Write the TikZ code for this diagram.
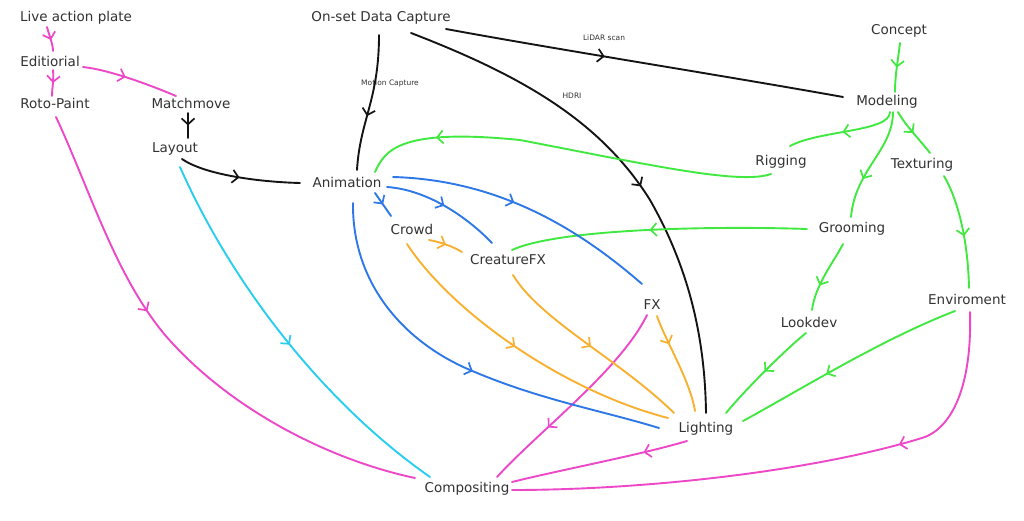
\documentclass[tikz,border=0pt]{standalone}
\usepackage{fontspec}
\setmainfont{DejaVu Sans}
\usetikzlibrary{arrows.meta,decorations.markings}
\definecolor{cpink}{RGB}{236,72,200}
\definecolor{cgreen}{RGB}{64,232,64}
\definecolor{cblue}{RGB}{45,120,230}
\definecolor{corange}{RGB}{248,176,48}
\definecolor{ccyan}{RGB}{40,205,240}
\definecolor{cblack}{RGB}{20,20,20}
\definecolor{ctext}{RGB}{50,50,50}
\tikzset{
  lbl/.style={inner sep=0pt, text height=11.5pt, text depth=1.5pt, text=ctext, font=\fontsize{13.5}{15}\selectfont},
  small/.style={inner sep=0pt, text=ctext, font=\fontsize{7.5}{9}\selectfont},
  conn/.style={line width=1.9pt, line cap=round, line join=round},
  arr/.style={postaction={decorate, decoration={markings,
     mark=at position #1 with {\arrow[line width=1.7pt]{Straight Barb[length=6pt,width=13pt]}}}}},
  arr/.default=0.5
}
\begin{document}
\begin{tikzpicture}[x=1pt,y=-1pt]
\useasboundingbox (0,0) rectangle (1024,521);
% nodes
\node[lbl] (lap) at (76,17) {Live action plate};
\node[lbl] (edit) at (50,62) {Editiorial};
\node[lbl] (roto) at (55,104) {Roto-Paint};
\node[lbl] (match) at (191,104) {Matchmove};
\node[lbl] (layout) at (175,148) {Layout};
\node[lbl] (onset) at (381,17) {On-set Data Capture};
\node[lbl] (anim) at (347,183) {Animation};
\node[lbl] (crowd) at (412,230) {Crowd};
\node[lbl] (cfx) at (508,259) {CreatureFX};
\node[lbl] (fx) at (652,304) {FX};
\node[lbl] (light) at (706,427) {Lighting};
\node[lbl] (comp) at (467,487) {Compositing};
\node[lbl] (concept) at (899,30) {Concept};
\node[lbl] (model) at (887,101) {Modeling};
\node[lbl] (rig) at (781,161) {Rigging};
\node[lbl] (tex) at (922,164) {Texturing};
\node[lbl] (groom) at (852,228) {Grooming};
\node[lbl] (look) at (809,322) {Lookdev};
\node[lbl] (env) at (967,299) {Enviroment};
\node[small] (lidar) at (604,38) {LiDAR scan};
\node[small] (mocap) at (390,83) {Motion Capture};
\node[small] (hdri) at (572,96) {HDRI};

% pink
\draw[conn,cpink,arr=0.55] ([shift={(-29,10)}]lap.center) .. controls (49,35) and (53,44) .. ([shift={(3,-11)}]edit.center);
\draw[conn,cpink,arr=0.5] ([shift={(3,8)}]edit.center) .. controls (54,80) and (52,88) .. ([shift={(-3,-8)}]roto.center);
\draw[conn,cpink,arr=0.45] ([shift={(33,5)}]edit.center) .. controls (110,70) and (150,85) .. ([shift={(-15,-8)}]match.center);
\draw[conn,cpink,arr=0.4] ([shift={(1,13)}]roto.center) .. controls (90,190) and (115,275) .. (165,335) .. controls (230,410) and (330,460) .. ([shift={(-52,-9)}]comp.center);
\draw[conn,cpink,arr=0.25] ([shift={(-19,14)}]light.center) .. controls (640,455) and (560,470) .. ([shift={(45,-5)}]comp.center);
\draw[conn,cpink,arr=0.3] ([shift={(3,13)}]env.center) .. controls (972,380) and (955,425) .. (925,437) .. controls (820,470) and (650,490) .. ([shift={(45,3)}]comp.center);
\draw[conn,cpink,arr=0.68] ([shift={(-5,11)}]fx.center) .. controls (620,370) and (540,430) .. ([shift={(30,-10)}]comp.center);

% black
\draw[conn,cblack,arr=0.5] ([shift={(-3,9)}]match.center) -- ([shift={(13,-10)}]layout.center);
\draw[conn,cblack,arr=0.5] ([shift={(7,11)}]layout.center) .. controls (205,175) and (260,182) .. ([shift={(-47,0)}]anim.center);
\draw[conn,cblack,arr=0.6] ([shift={(-2,18)}]onset.center) .. controls (379,100) and (360,120) .. ([shift={(10,-13)}]anim.center);
\draw[conn,cblack,arr=0.54] ([shift={(30,16)}]onset.center) .. controls (520,75) and (600,120) .. (650,200) .. controls (690,270) and (705,340) .. ([shift={(0,-14)}]light.center);
\draw[conn,cblack,arr=0.4] ([shift={(65,12)}]onset.center) .. controls (560,50) and (720,75) .. ([shift={(-44,-4)}]model.center);

% green
\draw[conn,cgreen,arr=0.5] ([shift={(1,13)}]concept.center) .. controls (898,60) and (895,75) .. ([shift={(8,-9)}]model.center);
\draw[conn,cgreen,arr=0.5] ([shift={(3,11)}]model.center) .. controls (890,132) and (820,130) .. ([shift={(9,-15)}]rig.center);
\draw[conn,cgreen,arr=0.65] ([shift={(6,11)}]model.center) .. controls (893,150) and (855,170) .. ([shift={(-1,-11)}]groom.center);
\draw[conn,cgreen,arr=0.5] ([shift={(11,11)}]model.center) .. controls (905,125) and (920,140) .. ([shift={(8,-11)}]tex.center);
\draw[conn,cgreen,arr=0.55] ([shift={(22,12)}]tex.center) .. controls (958,200) and (968,240) .. ([shift={(2,-11)}]env.center);
\draw[conn,cgreen,arr=0.82] ([shift={(-10,13)}]rig.center) .. controls (740,185) and (650,165) .. (520,140) .. controls (400,128) and (385,150) .. ([shift={(28,-11)}]anim.center);
\draw[conn,cgreen,arr=0.53] ([shift={(-45,1)}]groom.center) .. controls (720,226) and (560,228) .. ([shift={(4,-9)}]cfx.center);
\draw[conn,cgreen,arr=0.65] ([shift={(-9,16)}]groom.center) .. controls (835,260) and (815,285) .. ([shift={(3,-12)}]look.center);
\draw[conn,cgreen,arr=0.5] ([shift={(-3,11)}]look.center) .. controls (785,350) and (745,390) .. ([shift={(20,-14)}]light.center);
\draw[conn,cgreen,arr=0.6] ([shift={(-12,12)}]env.center) .. controls (880,340) and (800,390) .. ([shift={(37,-6)}]light.center);

% blue
\draw[conn,cblue,arr=0.5] ([shift={(28,10)}]anim.center) -- ([shift={(-21,-14)}]crowd.center);
\draw[conn,cblue,arr=0.5] ([shift={(40,4)}]anim.center) .. controls (430,190) and (470,220) .. ([shift={(-16,-16)}]cfx.center);
\draw[conn,cblue,arr=0.45] ([shift={(46,-6)}]anim.center) .. controls (500,180) and (580,230) .. ([shift={(-10,-20)}]fx.center);
\draw[conn,cblue,arr=0.53] ([shift={(6,20)}]anim.center) .. controls (352,280) and (400,340) .. (470,370) .. controls (540,400) and (600,410) .. ([shift={(-47,1)}]light.center);

% orange
\draw[conn,corange,arr=0.5] ([shift={(17,10)}]crowd.center) .. controls (440,242) and (452,246) .. ([shift={(-46,-7)}]cfx.center);
\draw[conn,corange,arr=0.47] ([shift={(-5,14)}]crowd.center) .. controls (450,310) and (560,390) .. ([shift={(-38,-9)}]light.center);
\draw[conn,corange,arr=0.5] ([shift={(5,16)}]cfx.center) .. controls (540,320) and (620,360) .. ([shift={(-32,-14)}]light.center);
\draw[conn,corange,arr=0.3] ([shift={(5,12)}]fx.center) .. controls (665,340) and (690,380) .. ([shift={(-11,-16)}]light.center);

% cyan
\draw[conn,ccyan,arr=0.52] ([shift={(5,19)}]layout.center) .. controls (230,280) and (320,400) .. ([shift={(-37,-10)}]comp.center);
\end{tikzpicture}
\end{document}
